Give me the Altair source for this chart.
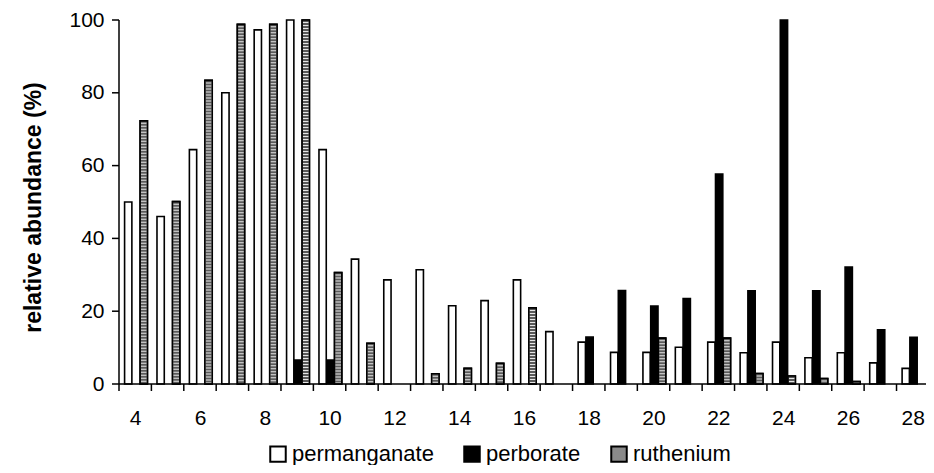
import altair as alt
import pandas as pd

categories = list(range(4, 29))
series_names = ["permanganate", "perborate", "ruthenium"]
permanganate = [50, 46, 64.4, 80, 97.3, 100, 64.4, 34.3, 28.6, 31.4, 21.5, 22.9, 28.6,
                14.4, 11.5, 8.7, 8.7, 10.1, 11.5, 8.6, 11.5, 7.2, 8.6, 5.8, 4.3]
perborate = [0, 0, 0, 0, 0, 6.6, 6.6, 0, 0, 0, 0, 0, 0,
             0, 12.9, 25.7, 21.4, 23.5, 57.7, 25.6, 100, 25.6, 32.1, 14.9, 12.8]
ruthenium = [72.3, 50.1, 83.4, 98.8, 98.8, 100, 30.6, 11.2, 0, 2.8, 4.3, 5.7, 20.9,
             0, 0, 0, 12.6, 0, 12.6, 2.9, 2.2, 1.5, 0.7, 0, 0]

x_tick_between = [c - 0.5 for c in categories]
x_labels = [c for c in categories if c % 2 == 0]
y_ticks = [0, 20, 40, 60, 80, 100]

rows = []
for idx, (name, vals) in enumerate(zip(series_names, [permanganate, perborate, ruthenium])):
    for c, v in zip(categories, vals):
        rows.append({"cat": c, "series": name, "idx": idx, "value": v})
df = pd.DataFrame(rows)

FONT = "Liberation Sans"
STEP = 0.24
BW = 0.225
SHIFT = 0.025
W, H = 807, 364
TICK = 7
LW = 1.5

base = alt.Chart(df).transform_filter("datum.value > 0").transform_calculate(
    xc=f"datum.cat + (datum.idx - 1) * {STEP} + {SHIFT}"
).transform_calculate(
    xa=f"datum.xc - {BW/2}", xb=f"datum.xc + {BW/2}"
)

xscale = alt.Scale(domain=[3.5, 28.41], zero=False, nice=False)
yscale = alt.Scale(domain=[0, 100], nice=False)

x_label_axis = alt.Axis(
    values=x_labels, ticks=False, domain=False, grid=False, title=None,
    orient="bottom", labelFont=FONT, labelFontSize=21, labelColor="black",
    labelPadding=TICK + 16, labelFlush=False, labelOverlap=False, labelBound=False,
    format="d",
)
y_axis = alt.Axis(
    values=y_ticks, title="relative abundance (%)", grid=False, ticks=False,
    domain=False, labelFont=FONT, labelFontSize=21, labelColor="black",
    labelPadding=TICK + 8, labelOverlap=False, labelFlush=False,
    titleFont=FONT, titleFontSize=23, titleFontWeight="bold", titleColor="black",
    titleX=-86, titleY=187, titleAlign="center", titleBaseline="middle",
    titleAngle=270,
)

bars = base.mark_bar(stroke="black", strokeWidth=1.6).encode(
    x=alt.X("xa:Q", scale=xscale, axis=x_label_axis),
    x2="xb:Q",
    y=alt.Y("value:Q", scale=yscale, axis=y_axis),
    y2=alt.datum(0),
    fill=alt.Fill(
        "series:N",
        scale=alt.Scale(domain=series_names, range=["white", "black", "#8a8a8a"]),
        legend=alt.Legend(
            orient="none", legendX=148, legendY=423, direction="horizontal",
            title=None, symbolType="square", symbolSize=240,
            symbolStrokeColor="black", symbolStrokeWidth=2, symbolOpacity=1,
            labelFont=FONT, labelFontSize=22, labelColor="black",
            labelOffset=3, columnPadding=26, padding=0,
        ),
    ),
)

ruth = base.transform_filter("datum.series === 'ruthenium'")
stripes_bg = ruth.mark_bar(fill="#e6e6e6", strokeWidth=0).encode(
    x=alt.X("xa:Q", scale=xscale, axis=None), x2="xb:Q",
    y=alt.Y("value:Q", scale=yscale, axis=None), y2=alt.datum(0),
)
stripes = ruth.mark_rule(color="#5a5a5a", strokeWidth=6, strokeDash=[2, 1]).encode(
    x=alt.X("xc:Q", scale=xscale, axis=None),
    y=alt.Y("value:Q", scale=yscale, axis=None), y2=alt.datum(0),
)
outline = ruth.mark_bar(fillOpacity=0, stroke="black", strokeWidth=1.6).encode(
    x=alt.X("xa:Q", scale=xscale, axis=None), x2="xb:Q",
    y=alt.Y("value:Q", scale=yscale, axis=None), y2=alt.datum(0),
)

# axis lines and tick marks (Excel style: x ticks between categories)
x_ticks_layer = alt.Chart(pd.DataFrame({"t": x_tick_between})).mark_rule(
    color="black", strokeWidth=LW
).encode(
    x=alt.X("t:Q", scale=xscale, axis=None),
    y=alt.value(H), y2=alt.value(H + TICK),
)
y_ticks_layer = alt.Chart(pd.DataFrame({"t": y_ticks})).mark_rule(
    color="black", strokeWidth=LW
).encode(
    y=alt.Y("t:Q", scale=yscale, axis=None),
    x=alt.value(-TICK), x2=alt.value(0),
)
x_domain = alt.Chart(pd.DataFrame({"t": [0]})).mark_rule(color="black", strokeWidth=LW).encode(
    x=alt.value(0), x2=alt.value(W), y=alt.value(H),
)
y_domain = alt.Chart(pd.DataFrame({"t": [0]})).mark_rule(color="black", strokeWidth=LW).encode(
    x=alt.value(0), y=alt.value(0), y2=alt.value(H),
)

chart = alt.layer(
    bars, stripes_bg, stripes, outline, x_ticks_layer, y_ticks_layer, x_domain, y_domain
).resolve_axis(
    x="independent", y="independent"
).properties(
    width=W, height=H,
    autosize=alt.AutoSizeParams(type="none"),
    padding={"left": 111, "top": 12, "right": 0, "bottom": 81},
).configure_view(stroke=None)

chart.save("out.html", embed_options={"renderer": "svg", "actions": False})
